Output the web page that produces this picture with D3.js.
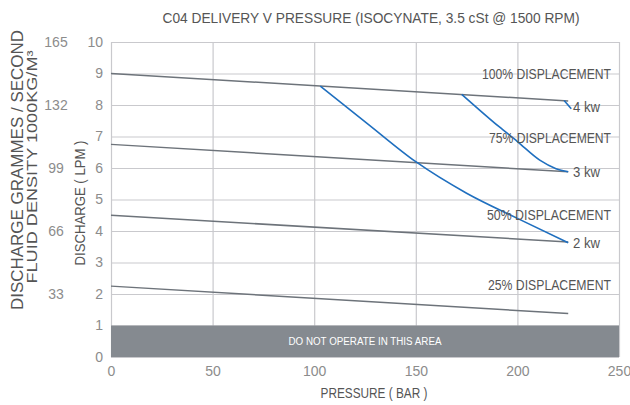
<!DOCTYPE html>
<html>
<head>
<meta charset="utf-8">
<script src="https://cdn.jsdelivr.net/npm/d3@7"></script>
<style>
  html, body { margin: 0; padding: 0; background: #fff; }
  svg { display: block; font-family: "Liberation Sans", Arial, sans-serif; }
</style>
</head>
<body>
<svg id="chart" width="630" height="405"></svg>
<script>
// ---- data ----
const pressureTicks = [0, 50, 100, 150, 200, 250];
const lpmTicks = [0, 1, 2, 3, 4, 5, 6, 7, 8, 9, 10];
const gpsTicks = [33, 66, 99, 132, 165];
const displacementLabels = ["100% DISPLACEMENT", "75% DISPLACEMENT", "50% DISPLACEMENT", "25% DISPLACEMENT"];
const displacementStart = [9.0, 6.75, 4.5, 2.25];
const displacementEnd = [8.13, 5.88, 3.65, 1.38];
const displacementPressure = [0, 225];
const labelLpm = [9.0, 6.95, 4.5, 2.3];
const kwLabels = ["4 kw", "3 kw", "2 kw"];
const kwLabelLpm = [7.93, 5.88, 3.63];
const kw4 = [[223, 8.14], [226.5, 7.88]];
const kw3 = [[172.6, 8.34], [191, 7.31], [200, 6.84], [211, 6.25], [219, 5.98], [225, 5.88]];
const kw2 = [[103, 8.6], [126, 7.42], [150, 6.2], [175, 5.2], [200, 4.4], [225, 3.63]];
const noOperate = [0, 1];

// ---- layout ----
const svg = d3.select("#chart");
const L = 111, R = 619, T = 42, B = 357;
const x = d3.scaleLinear().domain([0, 250]).range([L, R]);
const y = d3.scaleLinear().domain([0, 10]).range([B, T]);
const y2 = d3.scaleLinear().domain([0, 165]).range([B, T]);

const gridColor = "#c9c9cd";
const tickColor = "#8c8c8c";
const textColor = "#555555";

// grid
svg.append("g").selectAll("line").data(lpmTicks).join("line")
  .attr("x1", L).attr("x2", R)
  .attr("y1", d => y(d) + 0.5).attr("y2", d => y(d) + 0.5)
  .attr("stroke", gridColor).attr("stroke-width", 1.2);
svg.append("g").selectAll("line").data(pressureTicks).join("line")
  .attr("y1", T).attr("y2", B)
  .attr("x1", d => x(d) + 0.5).attr("x2", d => x(d) + 0.5)
  .attr("stroke", gridColor).attr("stroke-width", 1.2);

// no-operate band
svg.append("rect")
  .attr("x", x(0)).attr("width", x(250) - x(0))
  .attr("y", y(noOperate[1])).attr("height", y(noOperate[0]) - y(noOperate[1]))
  .attr("fill", "#858a90");
svg.append("text")
  .attr("x", (x(0) + x(250)) / 2).attr("y", (y(0) + y(1)) / 2 + 3.5)
  .attr("text-anchor", "middle").attr("fill", "#ffffff")
  .attr("font-size", 10).attr("textLength", 153).attr("lengthAdjust", "spacingAndGlyphs")
  .text("DO NOT OPERATE IN THIS AREA");

// axes tick labels
const xAxis = d3.axisBottom(x).tickValues(pressureTicks).tickSize(0).tickPadding(9);
const gx = svg.append("g").attr("transform", `translate(0,${B})`).call(xAxis);
gx.select(".domain").remove();
gx.selectAll("text").attr("fill", tickColor).attr("font-size", 14).attr("font-family", "Liberation Sans, Arial");

const yAxis = d3.axisLeft(y).tickValues(lpmTicks).tickSize(0).tickPadding(8);
const gy = svg.append("g").attr("transform", `translate(${L},0)`).call(yAxis);
gy.select(".domain").remove();
gy.selectAll("text").attr("fill", tickColor).attr("font-size", 14).attr("font-family", "Liberation Sans, Arial");

const y2Axis = d3.axisLeft(y2).tickValues(gpsTicks).tickSize(0).tickPadding(0);
const gy2 = svg.append("g").attr("transform", `translate(56,0)`).call(y2Axis);
gy2.select(".domain").remove();
gy2.selectAll("text").attr("fill", tickColor).attr("font-size", 14)
  .attr("text-anchor", "middle").attr("font-family", "Liberation Sans, Arial");

// displacement lines
const line = d3.line().x(d => x(d[0])).y(d => y(d[1]));
svg.append("g").selectAll("path").data(displacementStart.map((s, i) => [[displacementPressure[0], s], [displacementPressure[1], displacementEnd[i]]]))
  .join("path").attr("d", line)
  .attr("fill", "none").attr("stroke", "#6d737a").attr("stroke-width", 1.5);

// power curves
const curve = d3.line().x(d => x(d[0])).y(d => y(d[1])).curve(d3.curveMonotoneX);
svg.append("g").selectAll("path").data([kw4, kw3, kw2]).join("path")
  .attr("d", curve).attr("fill", "none").attr("stroke", "#1f6fbf").attr("stroke-width", 1.6);

// displacement labels
const labelWidths = [129, 122, 124, 123];
svg.append("g").selectAll("text").data(displacementLabels).join("text")
  .attr("x", 611).attr("y", (d, i) => y(labelLpm[i]) + 5)
  .attr("text-anchor", "end").attr("fill", textColor).attr("font-size", 14)
  .attr("textLength", (d, i) => labelWidths[i]).attr("lengthAdjust", "spacingAndGlyphs")
  .text(d => d);

// kw labels
svg.append("g").selectAll("text").data(kwLabels).join("text")
  .attr("x", 573).attr("y", (d, i) => y(kwLabelLpm[i]) + 5)
  .attr("fill", textColor).attr("font-size", 14)
  .attr("textLength", 27).attr("lengthAdjust", "spacingAndGlyphs")
  .text(d => d);

// title
svg.append("text")
  .attr("x", 371).attr("y", 23).attr("text-anchor", "middle")
  .attr("fill", textColor).attr("font-size", 15)
  .attr("textLength", 417).attr("lengthAdjust", "spacingAndGlyphs")
  .text("C04 DELIVERY V PRESSURE (ISOCYNATE, 3.5 cSt @ 1500 RPM)");

// x axis title
svg.append("text")
  .attr("x", 374).attr("y", 398).attr("text-anchor", "middle")
  .attr("fill", textColor).attr("font-size", 14)
  .attr("textLength", 107).attr("lengthAdjust", "spacingAndGlyphs")
  .text("PRESSURE ( BAR )");

// y axis title (LPM)
svg.append("text")
  .attr("transform", "translate(85,203) rotate(-90)").attr("text-anchor", "middle")
  .attr("fill", textColor).attr("font-size", 15)
  .attr("textLength", 125).attr("lengthAdjust", "spacingAndGlyphs")
  .text("DISCHARGE ( LPM )");

// secondary axis title
svg.append("text")
  .attr("transform", "translate(23,170) rotate(-90)").attr("text-anchor", "middle")
  .attr("fill", textColor).attr("font-size", 17)
  .attr("textLength", 280).attr("lengthAdjust", "spacingAndGlyphs")
  .text("DISCHARGE GRAMMES / SECOND");
svg.append("text")
  .attr("transform", "translate(37,167) rotate(-90)").attr("text-anchor", "middle")
  .attr("fill", textColor).attr("font-size", 15)
  .attr("textLength", 233).attr("lengthAdjust", "spacingAndGlyphs")
  .text("FLUID DENSITY 1000KG/M³");
</script>
</body>
</html>
